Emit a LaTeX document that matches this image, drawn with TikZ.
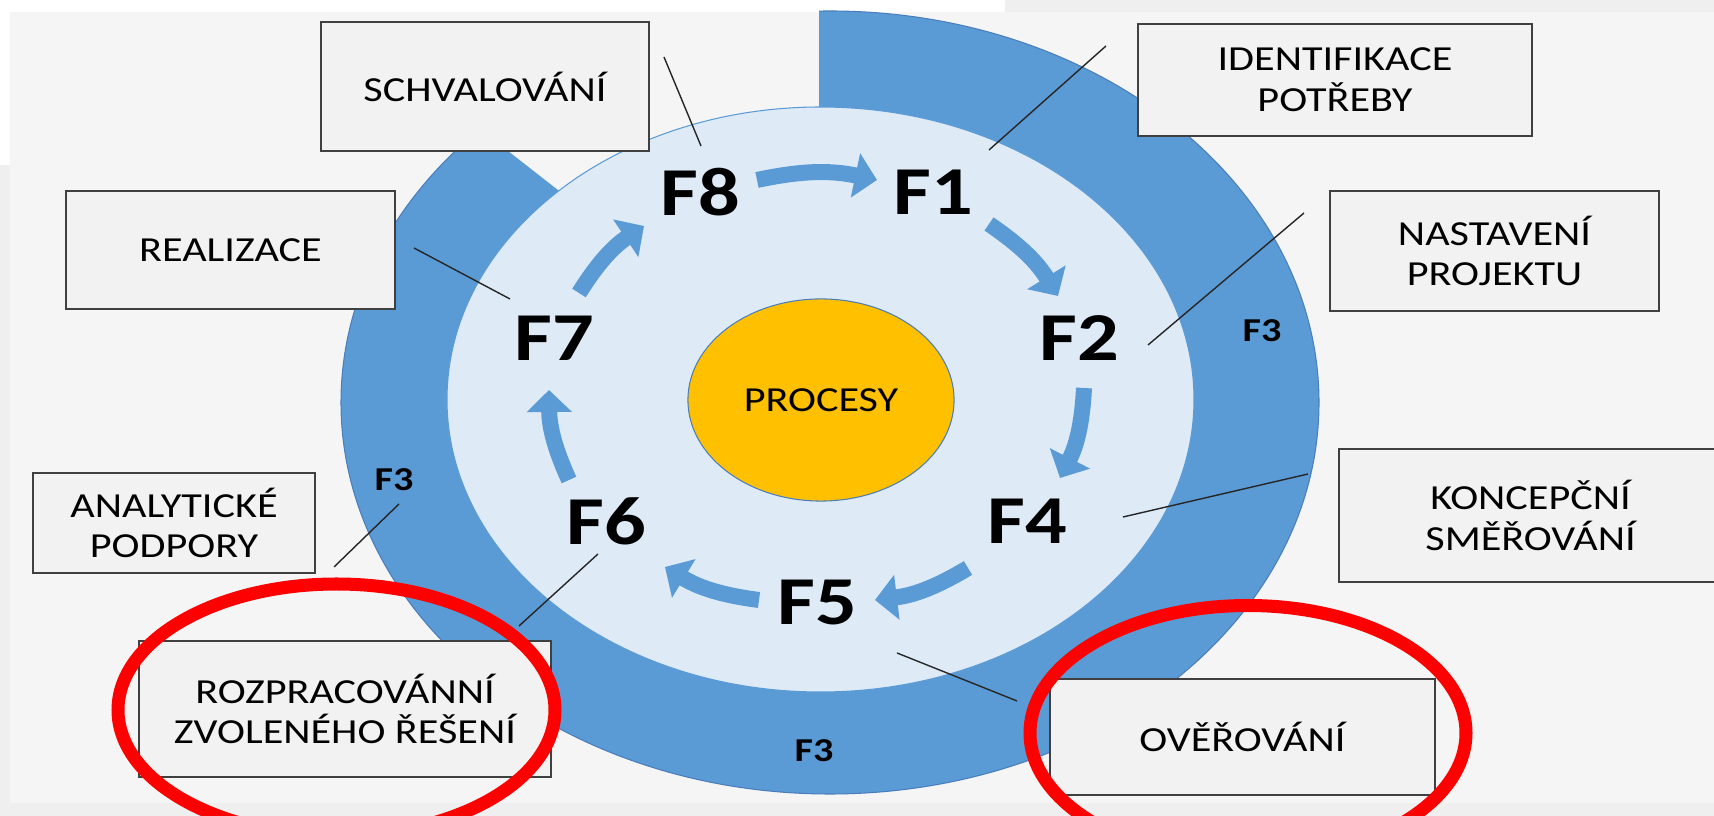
\documentclass[tikz,border=0pt]{standalone}
\usepackage{fontspec}
\setmainfont{Carlito}[FakeStretch=1.2]
\usetikzlibrary{arrows.meta,shapes.geometric}
\definecolor{panel}{HTML}{F5F5F5}
\definecolor{edgegray}{HTML}{EFEFEF}
\definecolor{boxfill}{HTML}{F2F2F2}
\definecolor{boxline}{HTML}{404040}
\definecolor{ringblue}{HTML}{5B9BD5}
\definecolor{ringedge}{HTML}{4A7EBB}
\definecolor{innerblue}{HTML}{DEEBF7}
\definecolor{gold}{HTML}{FFC000}
\begin{document}
\begin{tikzpicture}[x=0.01cm,y=-0.01cm,
  box/.style={draw=boxline, fill=boxfill, line width=0.45pt, align=center,
    inner sep=0pt, font=\fontsize{10}{11.6}\selectfont},
  flabel/.style={font=\fontsize{19.5}{20}\selectfont\bfseries, inner sep=0pt},
  fthree/.style={font=\fontsize{9.5}{10}\selectfont\bfseries, inner sep=0pt},
  cyc/.style={draw=ringblue, line width=0.16cm,
    -{Triangle[width=0.44cm,length=0.22cm]}},
  leader/.style={draw=black!85, line width=0.4pt},
  ring mark/.style={draw=red, line width=0.13cm},
]
\useasboundingbox (0,0) rectangle (1714,816);
\clip (0,0) rectangle (1714,816);

% backdrop
\fill[edgegray] (0,0) rectangle (1714,816);
\fill[white] (0,0) rectangle (1005,12);
\fill[white] (0,12) rectangle (10,165);
\fill[panel] (10,12) rectangle (1714,803);

% outer F3 ring, open at the top left
\begin{scope}
  \clip (829,402) -- (819,402) -- (819,-600) -- (1900,-600) -- (1900,1100)
        -- (-400,1100) -- (-400,-559) -- cycle;
  \filldraw[fill=ringblue, draw=ringedge, line width=0.3pt]
    (830,402.5) ellipse [x radius=489, y radius=391.5];
\end{scope}

% inner disc
\filldraw[fill=innerblue, draw=ringblue, line width=0.3pt]
  (820.5,399.5) ellipse [x radius=373.5, y radius=292.5];

% centre
\node[ellipse, draw=ringedge, fill=gold, line width=0.3pt,
  minimum width=2.66cm, minimum height=2.02cm, inner sep=0pt,
  font=\fontsize{10}{12}\selectfont] (core) at (821,400) {PROCESY};

% phase labels
\node[flabel] (f8) at (700,192) {F8};
\node[flabel] (f1) at (933,192) {F1};
\node[flabel] (f2) at (1079,338) {F2};
\node[flabel] (f4) at (1027,521) {F4};
\node[flabel] (f5) at (817,603) {F5};
\node[flabel] (f6) at (606,521) {F6};
\node[flabel] (f7) at (554,338) {F7};

% cycle arrows
\coordinate (a81s) at (757,180);  \coordinate (a81e) at (877,180);
\coordinate (a12s) at (989,224);  \coordinate (a12e) at (1058,296);
\coordinate (a24s) at (1084,388); \coordinate (a24e) at (1060,478);
\coordinate (a45s) at (968,568);  \coordinate (a45e) at (875,600);
\coordinate (a56s) at (759,600);  \coordinate (a56e) at (665,567);
\coordinate (a67s) at (569,480);  \coordinate (a67e) at (549,390);
\coordinate (a78s) at (579,293);  \coordinate (a78e) at (644,226);
\draw[cyc] (a81s) to[bend left=12] (a81e);
\draw[cyc] (a12s) to[bend left=12] (a12e);
\draw[cyc] (a24s) to[bend left=12] (a24e);
\draw[cyc] (a45s) to[bend left=12] (a45e);
\draw[cyc] (a56s) to[bend left=12] (a56e);
\draw[cyc] (a67s) to[bend left=12] (a67e);
\draw[cyc] (a78s) to[bend left=12] (a78e);

% F3 labels on the ring
\node[fthree] (r1) at (1262,331) {F3};
\node[fthree] (r2) at (394,479.5) {F3};
\node[fthree] (r3) at (814,751) {F3};

% leader lines
\coordinate (l1a) at (664,57);   \coordinate (l1b) at (701,146);
\coordinate (l2a) at (1106,46);  \coordinate (l2b) at (989,150);
\coordinate (l3a) at (1304,213); \coordinate (l3b) at (1148,345);
\coordinate (l4a) at (1308,474); \coordinate (l4b) at (1123,517);
\coordinate (l5a) at (1017,701); \coordinate (l5b) at (897,653);
\coordinate (l6a) at (519,626);  \coordinate (l6b) at (598,554);
\coordinate (l7a) at (334,567);  \coordinate (l7b) at (399,504);
\coordinate (l8a) at (414,248);  \coordinate (l8b) at (510,299);
\draw[leader] (l1a) -- (l1b);
\draw[leader] (l2a) -- (l2b);
\draw[leader] (l3a) -- (l3b);
\draw[leader] (l4a) -- (l4b);
\draw[leader] (l5a) -- (l5b);
\draw[leader] (l6a) -- (l6b);
\draw[leader] (l7a) -- (l7b);
\draw[leader] (l8a) -- (l8b);

% phase boxes
\node[box, minimum width=3.28cm, minimum height=1.29cm] (schv) at (485,86.5) {SCHVALOVÁNÍ};
\node[box, minimum width=3.94cm, minimum height=1.12cm] (ident) at (1335,80) {IDENTIFIKACE\\POTŘEBY};
\node[box, minimum width=3.29cm, minimum height=1.20cm] (nast) at (1494.5,251) {NASTAVENÍ\\PROJEKTU};
\node[box, minimum width=3.29cm, minimum height=1.18cm] (real) at (230.5,250) {REALIZACE};
\node[box, minimum width=2.82cm, minimum height=1.00cm] (anal) at (174,523) {ANALYTICKÉ\\PODPORY};
\node[box, minimum width=4.12cm, minimum height=1.36cm] (rozp) at (345,709) {ROZPRACOVÁNNÍ\\ZVOLENÉHO ŘEŠENÍ};
\node[box, minimum width=3.85cm, minimum height=1.16cm] (over) at (1242.5,737) {OVĚŘOVÁNÍ};
\node[box, minimum width=3.83cm, minimum height=1.33cm] (konc) at (1530.5,515.5) {KONCEPČNÍ\\SMĚŘOVÁNÍ};

% red highlight rings
\draw[ring mark] (336.5,710) ellipse [x radius=218.5, y radius=126];
\draw[ring mark] (1248,733) ellipse [x radius=218, y radius=127.5];
\end{tikzpicture}
\end{document}
